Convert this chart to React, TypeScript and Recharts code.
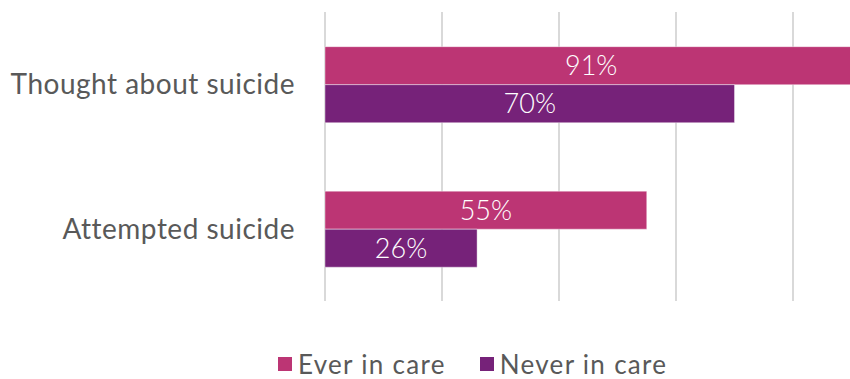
import React from "react";
import {
  BarChart,
  Bar,
  XAxis,
  YAxis,
  CartesianGrid,
  LabelList,
} from "recharts";

const CATEGORIES = ["Thought about suicide", "Attempted suicide"];
const EVER_IN_CARE = [91, 55];
const NEVER_IN_CARE = [70, 26];
const X_TICKS = [0, 20, 40, 60, 80, 100];

const SERIES = [
  { key: "ever", name: "Ever in care", color: "#BC3574" },
  { key: "never", name: "Never in care", color: "#762279" },
];

const data = CATEGORIES.map((name, i) => ({
  name,
  ever: EVER_IN_CARE[i],
  never: NEVER_IN_CARE[i],
}));

const FONT = "Lato, 'Open Sans', sans-serif";

const App = () => {
  return (
    <div
      style={{
        position: "absolute",
        left: 0,
        top: 0,
        width: 850,
        height: 379,
        overflow: "hidden",
        background: "#fff",
        fontFamily: FONT,
      }}
    >
      <BarChart
        layout="vertical"
        width={930}
        height={379}
        data={data}
        margin={{ top: 12, right: 20, bottom: 78, left: 0 }}
        barCategoryGap="24%"
        barGap={0}
      >
        <CartesianGrid
          horizontal={false}
          stroke="#D9D9D9"
          strokeWidth={2}
        />
        <XAxis
          type="number"
          domain={[0, 100]}
          ticks={X_TICKS}
          hide
        />
        <YAxis
          type="category"
          dataKey="name"
          width={325}
          axisLine={false}
          tickLine={false}
          tickSize={0}
          tickMargin={30}
          tick={{
            fontSize: 28,
            fill: "#595959",
            fontFamily: FONT,
            style: { letterSpacing: "0.5px" },
          }}
        />
        {SERIES.map((s) => (
          <Bar
            key={s.key}
            dataKey={s.key}
            name={s.name}
            fill={s.color}
            stroke="#ffffff"
            strokeOpacity={0.4}
            strokeWidth={1}
            isAnimationActive={false}
          >
            <LabelList
              dataKey={s.key}
              position="center"
              formatter={(v: number) => `${v}%`}
              fill="#ffffff"
              fontSize={27}
              fontWeight={300}
              fontFamily={FONT}
            />
          </Bar>
        ))}
      </BarChart>
      <div
        style={{
          position: "absolute",
          top: 349,
          left: 278,
          display: "flex",
          alignItems: "center",
          height: 30,
          lineHeight: "30px",
          fontSize: 26,
          letterSpacing: "1.3px",
          color: "#595959",
          whiteSpace: "nowrap",
        }}
      >
        {SERIES.map((s, i) => (
          <div
            key={s.key}
            style={{
              display: "flex",
              alignItems: "center",
              marginRight: i === 0 ? 34 : 0,
            }}
          >
            <span
              style={{
                width: 14,
                height: 14,
                background: s.color,
                display: "inline-block",
                marginRight: 6,
              }}
            />
            <span>{s.name}</span>
          </div>
        ))}
      </div>
    </div>
  );
};

export default App;
